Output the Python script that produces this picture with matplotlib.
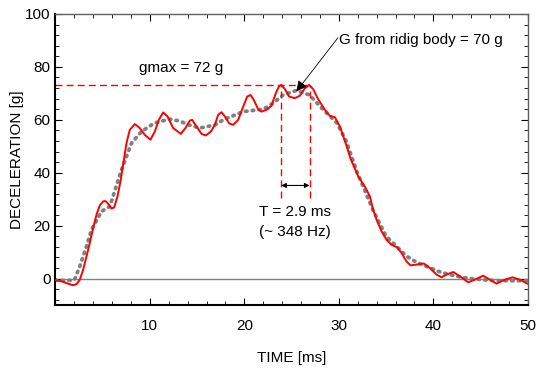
import numpy as np
import matplotlib
matplotlib.use('Agg')
import matplotlib.pyplot as plt
from matplotlib.ticker import MultipleLocator

plt.rcParams['font.family'] = ['Liberation Sans', 'DejaVu Sans']

# measured signal (red)
t_meas = [0.0, 0.65, 1.36, 1.89, 2.24, 2.59, 2.95, 3.30, 3.65, 4.00, 4.36, 4.71, 5.06, 5.31,
          5.59, 5.94, 6.23, 6.58, 6.93, 7.25, 7.53, 7.88, 8.41, 8.94, 9.47, 10.07, 10.53,
          10.95, 11.41, 11.87, 12.47, 13.28, 13.77, 14.23, 14.48, 14.94, 15.47, 15.93, 16.46,
          16.88, 17.23, 17.58, 17.94, 18.39, 18.82, 19.35, 19.88, 20.30, 20.65, 21.00, 21.46,
          21.82, 22.35, 22.87, 23.33, 23.69, 23.93, 24.29, 24.74, 25.34, 25.87, 26.40, 26.86,
          27.28, 27.81, 28.52, 29.05, 29.58, 30.11, 30.81, 31.22, 32.05, 32.75, 33.28, 33.63,
          33.99, 34.51, 35.04, 35.57, 36.17, 36.63, 37.16, 37.58, 38.22, 38.99, 39.63, 40.34,
          40.86, 41.39, 42.10, 42.80, 43.69, 44.39, 45.27, 45.98, 46.68, 47.57, 48.38, 49.15,
          50.0]
g_meas = [-0.6, -1.0, -1.9, -2.5, -2.1, -0.4, 3.4, 8.4, 13.5, 19.1, 24.2, 27.7, 29.2, 29.3,
          28.3, 26.5, 26.9, 31.1, 37.4, 44.9, 51.2, 56.2, 58.4, 56.9, 54.3, 52.5, 55.6,
          60.0, 62.8, 61.3, 56.9, 54.7, 56.9, 59.7, 60.0, 57.5, 54.7, 54.1, 55.6,
          58.1, 61.9, 62.9, 61.3, 58.7, 58.1, 60.0, 65.0, 68.8, 69.4, 67.5, 64.0,
          63.1, 63.8, 65.3, 70.1, 72.8, 73.2, 71.6, 68.8, 68.2, 69.1, 71.9, 73.2,
          71.6, 67.8, 63.8, 61.5, 61.0, 57.5, 50.2, 45.5, 38.6, 34.8, 31.1, 26.0,
          22.3, 17.9, 14.7, 12.8, 11.8, 9.7, 6.5, 5.0, 5.3, 5.7, 4.0, 1.5,
          0.5, 1.5, 2.5, 0.9, -1.4, -0.4, 1.1, -0.4, -1.9, -0.4, 0.5, -0.4,
          -2.0]

# rigid body response (grey dotted)
t_rigid = [0.0, 1.0, 2.0, 2.59, 3.3, 3.83, 4.89, 5.77, 7.0, 8.06, 9.12, 10.5, 12.1, 13.2,
           14.1, 15.3, 16.9, 17.76, 19.88, 22.0, 23.05, 24.1, 25.5, 26.9, 28.3, 29.8, 30.8,
           31.9, 33.6, 35.0, 36.1, 37.2, 38.2, 39.3, 40.5, 41.7, 43.0, 44.2, 45.5, 47.0, 50.0]
g_rigid = [-0.6, -0.7, -0.6, 4.6, 12.2, 18.5, 25.4, 27.3, 41.1, 51.2, 55.6, 58.8, 60.3, 59.5,
           58.1, 56.9, 58.1, 60.0, 63.1, 64.0, 66.3, 69.4, 71.1, 69.4, 64.0, 58.8, 51.8,
           40.5, 26.0, 16.0, 12.2, 8.4, 6.2, 4.6, 2.8, 1.5, 0.5, -0.1, -0.5, -0.8, -0.8]

gmax = 73.2
t_pk1, t_pk2 = 23.9, 26.9

fig = plt.figure(figsize=(5.37, 3.68), dpi=100)
ax = fig.add_axes([0.103, 0.171, 0.880, 0.791])

ax.axhline(0, color='#808080', lw=1.0, zorder=1)
ax.plot(t_meas, g_meas, color='red', lw=1.4, zorder=3)
ax.plot(t_rigid, g_rigid, color='#808080', lw=2.7, linestyle=(0, (0.4, 1.4)),
        dash_capstyle='round', zorder=2)

# gmax markers
ax.plot([0, t_pk2], [gmax, gmax], color='red', lw=1.0, ls=(0, (5, 3)), zorder=2)
ax.plot([t_pk1, t_pk1], [30.5, gmax], color='red', lw=1.0, ls=(0, (5, 3)), zorder=2)
ax.plot([t_pk2, t_pk2], [30.5, gmax], color='red', lw=1.0, ls=(0, (5, 3)), zorder=2)
ax.annotate('', xy=(t_pk2, 35.2), xytext=(t_pk1, 35.2),
            arrowprops=dict(arrowstyle='<|-|>', color='black', lw=0.8,
                            mutation_scale=7, shrinkA=0, shrinkB=0))
ax.text(25.4, 25.0, 'T = 2.9 ms', ha='center', va='center', fontsize=11)
ax.text(25.4, 17.6, '(~ 348 Hz)', ha='center', va='center', fontsize=11)

ax.text(8.9, 79.6, 'gmax = 72 g', ha='left', va='center', fontsize=11)
ax.text(30.0, 90.2, 'G from ridig body = 70 g', ha='left', va='center', fontsize=11)
ax.annotate('', xy=(25.5, 70.7), xytext=(29.9, 91.0),
            arrowprops=dict(arrowstyle='-|>', color='black', lw=0.6,
                            mutation_scale=16, shrinkA=0, shrinkB=0))

ax.set_xlim(0, 50)
ax.set_ylim(-10, 100)
ax.set_xticks([10, 20, 30, 40, 50])
ax.set_yticks([0, 20, 40, 60, 80, 100])
ax.xaxis.set_minor_locator(MultipleLocator(2))
ax.yaxis.set_minor_locator(MultipleLocator(4))
ax.tick_params(which='both', direction='in', top=True, right=True, labelsize=11)
ax.tick_params(which='major', length=5, width=0.8)
ax.tick_params(which='minor', length=3, width=0.6)
ax.tick_params(axis='x', pad=10)
for s in ['left', 'bottom']:
    ax.spines[s].set_linewidth(1.5)
for s in ['top', 'right']:
    ax.spines[s].set_linewidth(1.0)
    ax.spines[s].set_color('#606060')

ax.set_xlabel('TIME [ms]', fontsize=11, labelpad=13)
ax.set_ylabel('DECELERATION [g]', fontsize=11, labelpad=1)

fig.savefig('out.png', dpi=100)
